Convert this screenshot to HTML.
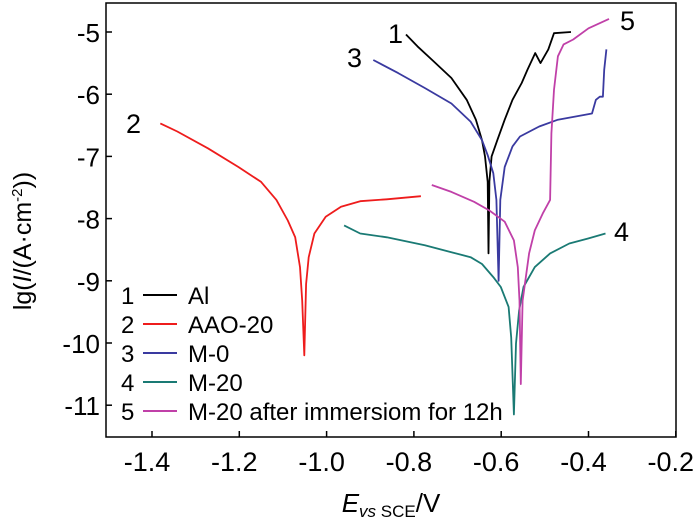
<!DOCTYPE html>
<html><head><meta charset="utf-8"><style>
body{margin:0;background:#fff}
svg{display:block;font-family:"Liberation Sans",Arial,sans-serif}
</style></head><body>
<svg id="chart" width="700" height="524" viewBox="0 0 700 524">
<rect x="106" y="3" width="570" height="434" fill="none" stroke="#000" stroke-width="1.5"/>
<g id="xticks"></g>
<g id="yticks"></g>
<g id="series"></g>
<text x="391" y="512" font-size="26" text-anchor="middle"><tspan font-style="italic">E</tspan><tspan font-size="17" dy="5"><tspan font-style="italic">vs</tspan> SCE</tspan><tspan dy="-5">/V</tspan></text>
<text transform="translate(31,241) rotate(-90)" font-size="25" text-anchor="middle">lg(<tspan font-style="italic">I</tspan>/(A·cm<tspan font-size="15" dy="-9">-2</tspan><tspan dy="9">))</tspan></text>
<text x="388" y="43" font-size="27">1</text>
<text x="347" y="67" font-size="27">3</text>
<text x="126" y="133" font-size="27">2</text>
<text x="620" y="30" font-size="27">5</text>
<text x="614" y="241" font-size="27">4</text>
<g id="legend"></g>
</svg>
<script>
const xTicks=[-1.4,-1.2,-1.0,-0.8,-0.6,-0.4,-0.2];
const xTickLabels=["-1.4","-1.2","-1.0","-0.8","-0.6","-0.4","-0.2"];
const yTicks=[-5,-6,-7,-8,-9,-10,-11];
const seriesNames=["Al","AAO-20","M-0","M-20","M-20 after immersiom for 12h"];
const seriesColors=["#000000","#ee1c1c","#3a3aa0","#1a7a74","#c040a8"];
const s1E=[-0.818,-0.792,-0.758,-0.714,-0.679,-0.658,-0.644,-0.637,-0.631,-0.629,-0.627,-0.622,-0.609,-0.592,-0.574,-0.553,-0.540,-0.522,-0.510,-0.492,-0.479,-0.440];
const s1V=[-5.04,-5.23,-5.45,-5.74,-6.09,-6.41,-6.74,-7.0,-7.41,-8.56,-7.4,-7.0,-6.74,-6.41,-6.09,-5.82,-5.61,-5.34,-5.5,-5.28,-5.02,-5.0];
const s2E=[-1.381,-1.342,-1.272,-1.202,-1.150,-1.115,-1.089,-1.072,-1.061,-1.056,-1.051,-1.047,-1.041,-1.028,-1.002,-0.967,-0.923,-0.862,-0.784];
const s2V=[-6.47,-6.60,-6.87,-7.17,-7.41,-7.70,-8.03,-8.30,-8.78,-9.32,-10.2,-9.05,-8.62,-8.24,-7.97,-7.81,-7.72,-7.69,-7.64];
const s3E=[-0.893,-0.836,-0.775,-0.714,-0.670,-0.644,-0.631,-0.618,-0.611,-0.606,-0.602,-0.592,-0.574,-0.557,-0.513,-0.470,-0.392,-0.383,-0.374,-0.367,-0.364,-0.359];
const s3V=[-5.45,-5.66,-5.90,-6.15,-6.44,-6.74,-6.98,-7.27,-7.70,-9.0,-7.70,-7.17,-6.84,-6.68,-6.52,-6.41,-6.31,-6.09,-6.04,-6.04,-5.61,-5.28];
const s4E=[-0.960,-0.923,-0.862,-0.775,-0.714,-0.670,-0.644,-0.618,-0.601,-0.583,-0.577,-0.571,-0.566,-0.559,-0.549,-0.523,-0.488,-0.444,-0.401,-0.361];
const s4V=[-8.11,-8.24,-8.30,-8.43,-8.54,-8.62,-8.73,-8.94,-9.1,-9.42,-9.91,-11.15,-10.01,-9.48,-9.10,-8.78,-8.56,-8.40,-8.32,-8.24];
const s5E=[-0.759,-0.714,-0.662,-0.627,-0.592,-0.571,-0.562,-0.558,-0.555,-0.551,-0.536,-0.523,-0.505,-0.488,-0.485,-0.479,-0.470,-0.457,-0.435,-0.400,-0.353];
const s5V=[-7.46,-7.57,-7.73,-7.87,-8.05,-8.35,-8.78,-9.32,-10.66,-9.32,-8.56,-8.19,-7.92,-7.70,-6.63,-5.93,-5.39,-5.2,-5.12,-4.94,-4.79];

const NS="http://www.w3.org/2000/svg";
function xs(e){return 152+(e+1.4)/0.2*87.3;}
function ys(v){return 32+(-5-v)*62.2;}
function mk(tag,attrs,parent){const el=document.createElementNS(NS,tag);for(const k in attrs)el.setAttribute(k,attrs[k]);parent.appendChild(el);return el;}
const gx=document.getElementById('xticks');
xTicks.forEach((t,i)=>{
  const l=mk('line',{x1:xs(t),x2:xs(t),y1:437,y2:431,stroke:'#000','stroke-width':1.5},gx);
  
  
  const tx=mk('text',{x:xs(t)-5,y:471,'font-size':27,'text-anchor':'middle'},gx);
  tx.textContent=xTickLabels[i];
  
  
});
const gy=document.getElementById('yticks');
yTicks.forEach(t=>{
  const l=mk('line',{x1:106,x2:112,y1:ys(t),y2:ys(t),stroke:'#000','stroke-width':1.5},gy);
  
  
  const tx=mk('text',{x:100,y:ys(t)+10,'font-size':26,'text-anchor':'end'},gy);
  tx.textContent=String(t);
  
  
});
const gs=document.getElementById('series');
const all=[[s1E,s1V],[s2E,s2V],[s3E,s3V],[s4E,s4V],[s5E,s5V]];
all.forEach((s,i)=>{
  let d='';
  s[0].forEach((e,j)=>{d+=(j?'L':'M')+xs(e).toFixed(1)+','+ys(s[1][j]).toFixed(1);});
  const p=mk('path',{d:d,fill:'none',stroke:seriesColors[i],'stroke-width':1.8,'stroke-linejoin':'round'},gs);
  
  
});
const gl=document.getElementById('legend');
const ly=[295,324,353,382,411];
seriesNames.forEach((n,i)=>{
  const num=mk('text',{x:121,y:ly[i]+9,'font-size':24},gl);
  num.textContent=String(i+1);
  
  
  const l=mk('line',{x1:143,x2:177,y1:ly[i],y2:ly[i],stroke:seriesColors[i],'stroke-width':2},gl);
  
  
  const t=mk('text',{x:188,y:ly[i]+9,'font-size':24},gl);
  t.textContent=n;
  
  
});
</script>
</body></html>
